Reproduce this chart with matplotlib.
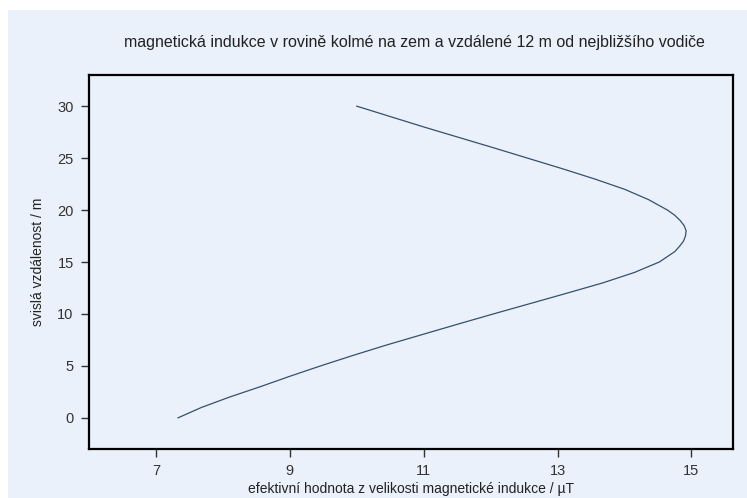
import matplotlib.pyplot as plt
from matplotlib.patches import Rectangle

# vertical distance (m) and RMS magnetic induction (uT)
vyska = [0, 1, 2, 3, 4, 5, 6, 7, 8, 9, 10, 11, 12, 13, 14, 15,
         16, 16.5, 17, 17.5, 18, 18.5, 19, 19.5, 20, 21, 22, 23, 24, 25,
         26, 27, 28, 29, 30]
indukce = [7.33, 7.68, 8.10, 8.56, 9.00, 9.46, 9.94, 10.44, 10.97, 11.50,
           12.04, 12.59, 13.14, 13.68, 14.15, 14.52, 14.75, 14.82, 14.88,
           14.91, 14.92, 14.89, 14.83, 14.75, 14.64, 14.36, 14.00, 13.55,
           13.06, 12.55, 12.04, 11.52, 11.00, 10.50, 10.00]

x_ticks = [7, 9, 11, 13, 15]
y_ticks = [0, 5, 10, 15, 20, 25, 30]

bg = '#eaf1fb'
plt.rcParams['font.family'] = ['Liberation Sans', 'DejaVu Sans']

fig = plt.figure(figsize=(7.47, 4.98), dpi=100)
fig.patch.set_facecolor('white')
fig.patches.append(Rectangle((8 / 747, 0), 1, 488 / 498, transform=fig.transFigure,
                             facecolor=bg, edgecolor='none', zorder=-10))

ax = fig.add_axes([89 / 747, 1 - 449 / 498, (733 - 89) / 747, (449 - 75) / 498])
ax.set_zorder(1)
ax.set_facecolor(bg)
ax.plot(indukce, vyska, color='#34506e', lw=0.9)

ax.set_xlim(6.0, 15.62)
ax.set_ylim(-3.0, 33.0)
ax.set_xticks(x_ticks)
ax.set_yticks(y_ticks)
ax.tick_params(direction='out', length=6, width=1, color='#333333',
               labelcolor='#333333', labelsize=10.5, pad=5)
for s in ax.spines.values():
    s.set_linewidth(1.6)
    s.set_color('black')

fig.text(414 / 747, 1 - 43 / 498, 'magnetická indukce v rovině kolmé na zem a vzdálené 12 m od nejbližšího vodiče',
         ha='center', va='center', fontsize=11.5, color='#222222')
ax.set_xlabel('efektivní hodnota z velikosti magnetické indukce / µT', fontsize=10,
              color='#222222', labelpad=3)
ax.set_ylabel('svislá vzdálenost / m', fontsize=10, color='#222222', labelpad=9)

fig.savefig('out.png', dpi=100, facecolor=fig.get_facecolor())
